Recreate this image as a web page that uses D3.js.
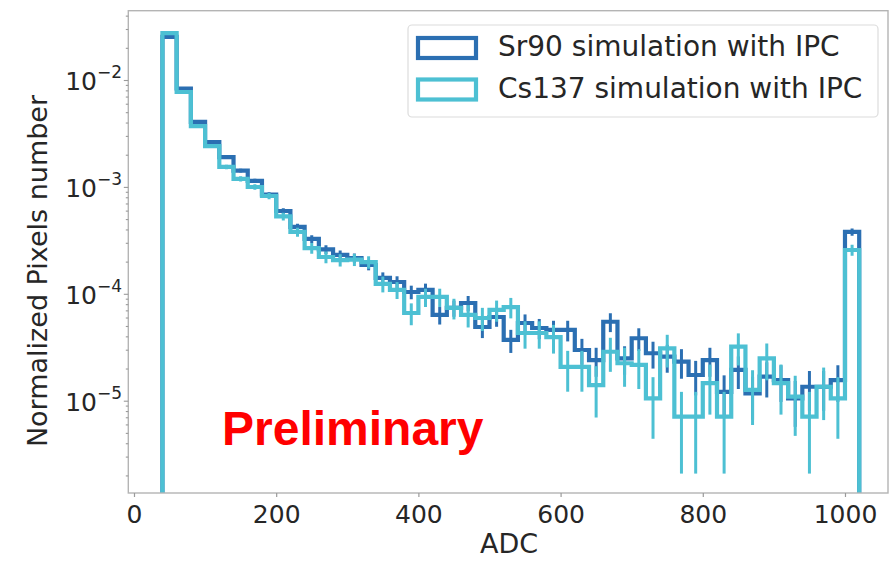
<!DOCTYPE html>
<html>
<head>
<meta charset="utf-8">
<script src="https://cdn.jsdelivr.net/npm/d3@7"></script>
<style>
  html, body { margin: 0; padding: 0; background: #ffffff; }
  svg { display: block; }
</style>
</head>
<body>
<svg id="chart" width="891" height="561"></svg>
<script>
// ADC histogram binning: 49 bins of 20 ADC starting at 40
const binStart = 40;
const binWidth = 20;

// Normalized pixel counts per bin
const sr90 = [
  2.53e-2, 8.33e-3, 4.05e-3, 2.63e-3, 1.90e-3, 1.42e-3, 1.14e-3, 8.49e-4, 5.95e-4, 4.22e-4,
  3.26e-4, 2.60e-4, 2.31e-4, 2.16e-4, 1.86e-4, 1.41e-4, 1.29e-4, 1.04e-4, 1.09e-4, 6.34e-5,
  7.37e-5, 8.20e-5, 4.89e-5, 6.07e-5, 3.70e-5, 5.33e-5, 4.79e-5, 4.59e-5, 4.59e-5, 2.98e-5,
  2.40e-5, 5.48e-5, 2.49e-5, 3.84e-5, 2.78e-5, 2.58e-5, 2.32e-5, 1.74e-5, 2.40e-5, 1.21e-5,
  1.94e-5, 1.17e-5, 1.68e-5, 1.56e-5, 1.05e-5, 1.35e-5, 1.35e-5, 1.56e-5, 3.79e-4
];
const cs137 = [
  2.75e-2, 7.72e-3, 3.71e-3, 2.41e-3, 1.54e-3, 1.19e-3, 9.98e-4, 8.22e-4, 5.29e-4, 3.79e-4,
  2.68e-4, 2.21e-4, 2.07e-4, 2.09e-4, 1.98e-4, 1.24e-4, 1.09e-4, 6.61e-5, 9.34e-5, 9.34e-5,
  7.37e-5, 6.34e-5, 5.94e-5, 7.06e-5, 7.52e-5, 4.30e-5, 4.30e-5, 3.94e-5, 2.07e-5, 2.07e-5,
  1.40e-5, 2.87e-5, 2.24e-5, 2.16e-5, 1.05e-5, 3.09e-5, 7.09e-6, 7.09e-6, 1.46e-5, 7.09e-6,
  3.20e-5, 1.26e-5, 2.49e-5, 1.46e-5, 1.09e-5, 7.09e-6, 1.35e-5, 1.05e-5, 2.57e-4
];

// Normalized weight of a single pixel entry (Poisson error per bin)
const entryWeightSr90 = 2.2e-6;
const entryWeightCs137 = 3.54e-6;

const seriesNames = ["Sr90 simulation with IPC", "Cs137 simulation with IPC"];
const seriesColors = ["#2b6fb2", "#4dc0d3"];

const xTickValues = [0, 200, 400, 600, 800, 1000];
const yTickExponents = [-2, -3, -4, -5];

const xLabel = "ADC";
const yLabel = "Normalized Pixels number";
const stampText = "Preliminary";

// ---- layout ----
const plot = { left: 128.3, right: 888, top: 10.7, bottom: 493 };

const svg = d3.select("#chart");
const font = "'DejaVu Sans', sans-serif";

const x = d3.scaleLinear().domain([-8, 1060.5]).range([plot.left, plot.right]);
const y = d3.scaleLog().domain([Math.pow(10, -5.8634), Math.pow(10, -1.3517)])
  .range([plot.bottom, plot.top]);

const edges = d3.range(sr90.length + 1).map(i => binStart + i * binWidth);

svg.append("defs").append("clipPath").attr("id", "plotClip")
  .append("rect")
  .attr("x", plot.left).attr("y", plot.top)
  .attr("width", plot.right - plot.left).attr("height", plot.bottom - plot.top);

const g = svg.append("g").attr("clip-path", "url(#plotClip)");

// Step outline of a histogram: up from the floor, across each bin, back to the floor
function stepPoints(values) {
  const floor = y.domain()[0] / 10;
  const pts = [[edges[0], floor]];
  values.forEach((v, i) => {
    pts.push([edges[i], v]);
    pts.push([edges[i + 1], v]);
  });
  pts.push([edges[edges.length - 1], floor]);
  return pts;
}

const line = d3.line()
  .x(d => x(d[0]))
  .y(d => Math.min(y(d[1]), plot.bottom + 20));

function drawSeries(values, weight, color) {
  g.append("path")
    .attr("d", line(stepPoints(values)))
    .attr("fill", "none")
    .attr("stroke", color)
    .attr("stroke-width", 4.2)
    .attr("stroke-linejoin", "miter");

  const bars = values.map((v, i) => {
    const sigma = Math.sqrt(v * weight);
    return { xc: edges[i] + binWidth / 2, lo: Math.max(v - sigma, y.domain()[0] / 10), hi: v + sigma };
  });
  g.append("g").selectAll("line").data(bars).join("line")
    .attr("x1", d => x(d.xc)).attr("x2", d => x(d.xc))
    .attr("y1", d => Math.min(y(d.lo), plot.bottom + 20))
    .attr("y2", d => y(d.hi))
    .attr("stroke", color)
    .attr("stroke-width", 3);
}

drawSeries(sr90, entryWeightSr90, seriesColors[0]);
drawSeries(cs137, entryWeightCs137, seriesColors[1]);

// ---- frame ----
svg.append("rect")
  .attr("x", plot.left).attr("y", plot.top)
  .attr("width", plot.right - plot.left).attr("height", plot.bottom - plot.top)
  .attr("fill", "none").attr("stroke", "#b4b4b4").attr("stroke-width", 1.4);

// ---- x axis ----
const xAxis = d3.axisBottom(x).tickValues(xTickValues).tickSize(4).tickPadding(6)
  .tickFormat(d3.format("d"));
const xg = svg.append("g").attr("transform", `translate(0,${plot.bottom})`).call(xAxis);
xg.select(".domain").remove();
xg.selectAll(".tick line").attr("stroke", "#9a9a9a").attr("stroke-width", 1.2);
xg.selectAll(".tick text")
  .attr("font-family", font).attr("font-size", 25).attr("fill", "#262626")
  .attr("dy", "0.78em");

// ---- y axis (log, minor ticks) ----
const allTicks = y.ticks();
const isMajor = v => Math.abs(Math.log10(v) - Math.round(Math.log10(v))) < 1e-9;
const yAxis = d3.axisLeft(y).tickValues(allTicks).tickFormat("")
  .tickSize(3);
const yg = svg.append("g").attr("transform", `translate(${plot.left},0)`).call(yAxis);
yg.select(".domain").remove();
yg.selectAll(".tick line")
  .attr("stroke", "#9a9a9a").attr("stroke-width", 1.1)
  .attr("x2", d => isMajor(d) ? -4.5 : -2.5);

const ylab = svg.append("g");
yTickExponents.forEach(e => {
  const ty = y(Math.pow(10, e));
  const t = ylab.append("text")
    .attr("x", 122).attr("y", ty + 10)
    .attr("text-anchor", "end")
    .attr("font-family", font).attr("font-size", 25).attr("fill", "#262626");
  t.append("tspan").text("10");
  t.append("tspan").attr("font-size", 17).attr("dy", -12).text("\u2212" + Math.abs(e));
});

// ---- axis titles ----
svg.append("text")
  .attr("x", 509).attr("y", 553)
  .attr("text-anchor", "middle")
  .attr("font-family", font).attr("font-size", 27).attr("fill", "#262626")
  .text(xLabel);

svg.append("text")
  .attr("transform", "translate(47,271) rotate(-90)")
  .attr("text-anchor", "middle")
  .attr("font-family", font).attr("font-size", 27).attr("fill", "#262626")
  .text(yLabel);

// ---- legend ----
const legend = svg.append("g");
legend.append("rect")
  .attr("x", 408).attr("y", 25).attr("width", 470).attr("height", 92)
  .attr("rx", 4).attr("fill", "#ffffff").attr("fill-opacity", 0.85)
  .attr("stroke", "#dcdcdc").attr("stroke-width", 1.2);

seriesNames.forEach((name, i) => {
  const top = 38 + i * 41.5;
  legend.append("rect")
    .attr("x", 418).attr("y", top).attr("width", 58).attr("height", 20)
    .attr("fill", "none").attr("stroke", seriesColors[i]).attr("stroke-width", 4.2);
  legend.append("text")
    .attr("x", 498).attr("y", top + 18)
    .attr("font-family", font).attr("font-size", 28).attr("fill", "#262626")
    .text(name);
});

// ---- stamp ----
svg.append("text")
  .attr("x", 222).attr("y", 445)
  .attr("font-family", "'Liberation Sans', Arial, sans-serif")
  .attr("font-weight", "bold").attr("font-size", 48).attr("fill", "#ff0000")
  .text(stampText);
</script>
</body>
</html>
